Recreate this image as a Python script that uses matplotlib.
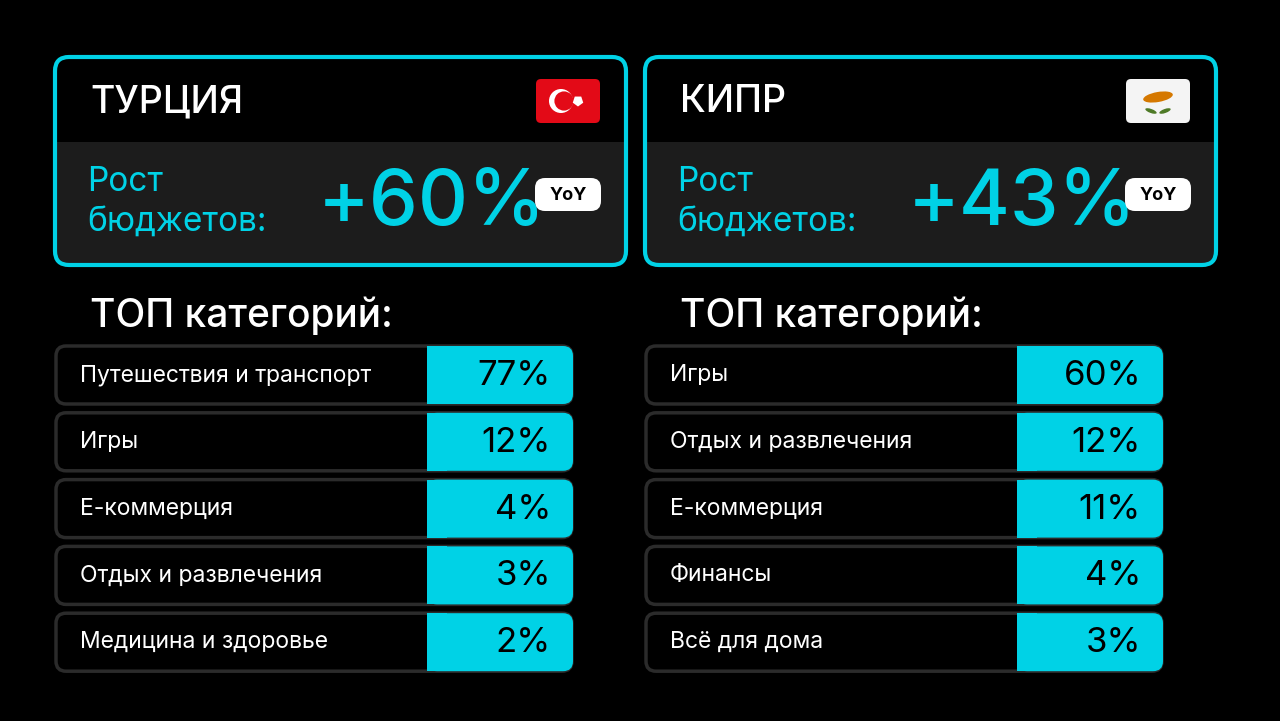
import matplotlib
matplotlib.use("Agg")
import matplotlib.pyplot as plt
from matplotlib.patches import FancyBboxPatch, Rectangle, Circle, Ellipse, RegularPolygon

countries = ["ТУРЦИЯ", "КИПР"]
growth = ["+60%", "+43%"]
tr_cats = ["Путешествия и транспорт", "Игры", "E-коммерция", "Отдых и развлечения", "Медицина и здоровье"]
tr_vals = [77, 12, 4, 3, 2]
cy_cats = ["Игры", "Отдых и развлечения", "E-коммерция", "Финансы", "Всё для дома"]
cy_vals = [60, 12, 11, 4, 3]

CYAN = "#00d2e6"
plt.rcParams['font.family'] = ['Inter', 'DejaVu Sans']
fig = plt.figure(figsize=(12.8, 7.21), dpi=100, facecolor="black")
ax = fig.add_axes([0, 0, 1, 1])
ax.set_xlim(0, 1280); ax.set_ylim(721, 0); ax.axis("off")
ax.set_facecolor("black")

def rrect(x, y, w, h, r, fc, ec="none", lw=0, z=1):
    p = FancyBboxPatch((x + r, y + r), w - 2 * r, h - 2 * r, boxstyle=f"round,pad={r}",
                       fc=fc, ec=ec, lw=lw, zorder=z)
    ax.add_patch(p)

def turkey_flag(x, y):
    rrect(x, y, 64, 44, 5, "#e30a17", z=3)
    ax.add_patch(Circle((x + 25, y + 22), 12, fc="white", zorder=4))
    ax.add_patch(Circle((x + 28, y + 22), 9.6, fc="#e30a17", zorder=5))
    ax.add_patch(RegularPolygon((x + 42, y + 22), 5, radius=5.5, orientation=0, fc="white", zorder=5))

def cyprus_flag(x, y):
    rrect(x, y, 64, 44, 5, "#f4f4f4", z=3)
    ax.add_patch(Ellipse((x + 32, y + 18), 30, 10, angle=-10, fc="#d57800", zorder=4))
    ax.add_patch(Ellipse((x + 25, y + 32), 12, 4, angle=20, fc="#4e7a27", zorder=4))
    ax.add_patch(Ellipse((x + 39, y + 32), 12, 4, angle=-20, fc="#4e7a27", zorder=4))

for i, (name, g, cats, vals) in enumerate([(countries[0], growth[0], tr_cats, tr_vals),
                                             (countries[1], growth[1], cy_cats, cy_vals)]):
    ox = 55 + i * 590
    # card
    rrect(ox, 57, 571, 208, 14, "black", z=1)
    ax.add_patch(Rectangle((ox + 2, 142), 567, 121, fc="#1c1c1c", zorder=1.5))
    rrect(ox, 57, 571, 208, 14, "none", ec=CYAN, lw=3, z=2)
    ax.text(ox + 35, 102, name, color="white", fontsize=27, fontweight="medium", va="center", zorder=3)
    (turkey_flag if i == 0 else cyprus_flag)(ox + 481, 79)
    ax.text(ox + 32, 182, "Рост", color=CYAN, fontsize=24, va="center", zorder=3)
    ax.text(ox + 32, 223, "бюджетов:", color=CYAN, fontsize=24, va="center", zorder=3)
    ax.text(ox + 263, 205, g, color=CYAN, fontsize=56, fontweight="medium", va="center", zorder=3)
    rrect(ox + 480, 178, 66, 33, 10, "white", z=3)
    ax.text(ox + 513, 195, "YoY", color="black", fontsize=13, fontweight="bold", ha="center", va="center", zorder=4)
    # top categories
    ax.text(ox + 35, 316, "ТОП категорий:", color="white", fontsize=28, fontweight="medium", va="center")
    for j, (c, v) in enumerate(zip(cats, vals)):
        y = 346 + j * 66.8
        rrect(ox + 1, y, 516, 58, 10, "black", ec="#2b2b2b", lw=2.5, z=2)
        rrect(ox + 372, y, 146, 58, 10, CYAN, z=3)
        ax.add_patch(Rectangle((ox + 372, y), 20, 58, fc=CYAN, zorder=3))
        ax.text(ox + 25, y + 29, c, color="white", fontsize=16.5, va="center", zorder=4)
        ax.text(ox + 496, y + 30, f"{v}%", color="black", fontsize=25, ha="right", va="center", zorder=4)

fig.savefig("out.png", dpi=100, facecolor="black")
